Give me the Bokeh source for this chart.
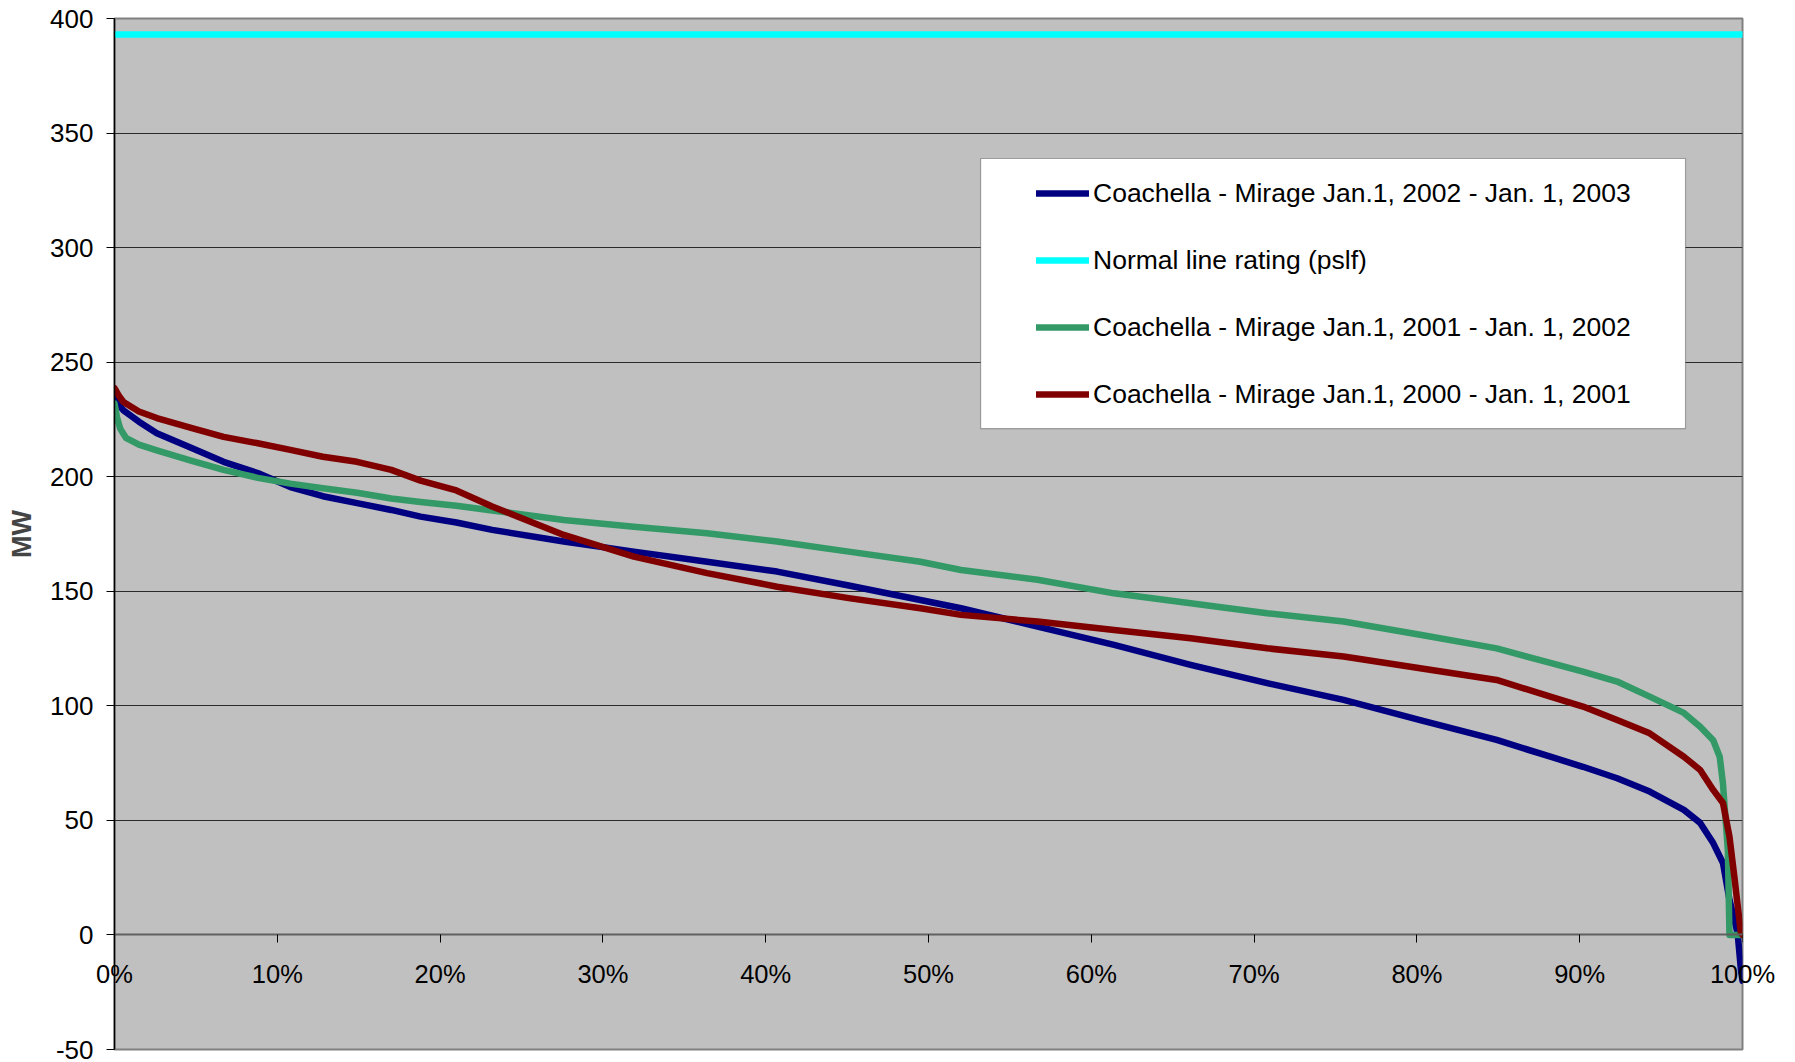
from bokeh.plotting import figure
from bokeh.models import (Range1d, FixedTicker, PrintfTickFormatter, Legend, LegendItem,
                          BoxAnnotation, LinearAxis)
from bokeh.embed import file_html
from bokeh.resources import INLINE

# ---- data (percent of time, MW) ----
pct_2002 = [0, 0.3, 0.55, 1.5, 2.6, 4.7, 6.7, 8.8, 10.8, 12.8, 14.9, 17, 18.8, 21, 23.2, 27.6,
            31.9, 36.4, 40.7, 45.1, 49.5, 52, 56.7, 61.4, 66.1, 70.8, 75.5, 80.2, 84.9, 88.2,
            90.2, 92.3, 94.3, 96.4, 97.4, 98.2, 98.8, 99.2, 99.7, 99.9, 100]
mw_2002 = [235, 231, 229, 224, 219, 212.6, 206.5, 201.6, 195.5, 191.5, 188.5, 185.5, 182.6, 180,
           176.8, 171.7, 167.3, 162.9, 158.6, 152.5, 146.2, 142.6, 134.6, 126.6, 117.9, 109.9,
           102.6, 93.8, 85.1, 77.8, 73.4, 68.4, 62.6, 54.6, 48.9, 40.1, 31.4, 15.3, 0.8, -15, -20]

pct_2001 = [0, 0.15, 0.35, 0.7, 1.5, 2.6, 4.7, 6.7, 8.8, 10.8, 12.8, 14.9, 17, 18.8, 21, 23.2,
            27.6, 31.9, 36.4, 40.7, 45.1, 49.5, 52, 56.7, 61.4, 66.1, 70.8, 75.5, 80.2, 84.9,
            88.2, 90.2, 92.3, 94.3, 96.4, 97.4, 98.2, 98.6, 98.8, 99.1, 99.2, 100]
mw_2001 = [232, 226, 221, 217, 214, 211.5, 207, 203, 199.5, 197, 195, 193, 190.5, 189, 187.3,
           185.3, 181.1, 178.2, 175.3, 171.7, 167.3, 162.9, 159.3, 155, 149.1, 144.8, 140.4,
           136.8, 131, 125.1, 118.7, 114.9, 110.6, 104, 96.9, 90.9, 85, 77.8, 66, 37, 0, 0]

pct_2000 = [0, 0.3, 0.55, 1.5, 2.6, 4.7, 6.7, 8.8, 10.8, 12.8, 14.9, 17, 18.8, 21, 23.2, 27.6,
            31.9, 36.4, 40.7, 45.1, 49.5, 52, 56.7, 61.4, 66.1, 70.8, 75.5, 80.2, 84.9, 88.2,
            90.2, 92.3, 94.3, 96.4, 97.4, 98.2, 98.8, 99.2, 99.5, 99.9, 100]
mw_2000 = [238.7, 235, 232.6, 228.5, 225.6, 221.3, 217.4, 214.6, 211.7, 208.7, 206.5, 203,
           198.3, 194, 187, 174.6, 165.1, 157.9, 152, 147, 142.6, 139.7, 136.8, 133.1, 129.5,
           125.1, 121.5, 116.4, 111.3, 104, 99.7, 93.8, 88, 77.8, 72, 63.3, 57.6, 42.9, 25.4,
           0.8, 0]

pct_rating = [0, 100]
mw_rating = [393, 393]

labels = ["Coachella - Mirage Jan.1, 2002 - Jan. 1, 2003",
          "Normal line rating (pslf)",
          "Coachella - Mirage Jan.1, 2001 - Jan. 1, 2002",
          "Coachella - Mirage Jan.1, 2000 - Jan. 1, 2001"]

x_ticks = list(range(0, 101, 10))
y_ticks = list(range(-50, 401, 50))

FONT = "Liberation Sans"

p = figure(width=1795, height=1062, output_backend="svg", toolbar_location=None,
           x_range=Range1d(0, 100), y_range=Range1d(-50, 400),
           x_axis_location=None, y_axis_location="left",
           min_border_left=114, min_border_right=53, min_border_top=18, min_border_bottom=13)
p.background_fill_color = "#C0C0C0"
p.border_fill_color = "white"
p.outline_line_color = "#808080"
p.outline_line_width = 2

p.xgrid.visible = False
p.ygrid.ticker = FixedTicker(ticks=y_ticks)
p.ygrid.grid_line_color = "#2a2a2a"
p.ygrid.grid_line_width = 1

yax = p.yaxis[0]
yax.ticker = FixedTicker(ticks=y_ticks)
yax.formatter = PrintfTickFormatter(format="%d")
yax.axis_label = "MW"
yax.axis_label_text_font = FONT
yax.axis_label_text_font_style = "bold"
yax.axis_label_text_font_size = "27px"
yax.axis_label_standoff = 10
yax.major_label_text_font = FONT
yax.major_label_text_font_size = "26px"
yax.major_label_text_color = "black"
yax.major_label_standoff = 13
yax.major_tick_out = 8
yax.major_tick_in = 0
yax.minor_tick_out = 0
yax.minor_tick_in = 0
yax.axis_line_color = "black"
yax.axis_line_width = 1.5
yax.major_tick_line_color = "black"

# tick labels of the percent axis (drawn in the bottom panel, raised to sit under the 0 MW line)
xlab = LinearAxis(ticker=FixedTicker(ticks=x_ticks), formatter=PrintfTickFormatter(format="%d%%"))
xlab.major_label_text_font = FONT
xlab.major_label_text_font_size = "25.5px"
xlab.major_label_text_color = "black"
xlab.major_label_standoff = -90
xlab.major_tick_out = 0
xlab.major_tick_in = 0
xlab.minor_tick_out = 0
xlab.minor_tick_in = 0
xlab.axis_line_color = None
xlab.major_tick_line_color = None
p.add_layout(xlab, "below")

# axis line and ticks at 0 MW
xax = LinearAxis(ticker=FixedTicker(ticks=x_ticks))
xax.fixed_location = 0
xax.major_label_text_alpha = 0
xax.major_label_text_font_size = "1px"
xax.major_tick_out = 8
xax.major_tick_in = 0
xax.minor_tick_out = 0
xax.minor_tick_in = 0
xax.axis_line_color = "#606060"
xax.axis_line_width = 2
xax.major_tick_line_color = "black"
p.add_layout(xax, "below")

LW = 6.5
r_2002 = p.line(pct_2002, mw_2002, line_color="#000080", line_width=LW, line_cap="round", line_join="round")
r_rating = p.line(pct_rating, mw_rating, line_color="#00FFFF", line_width=LW, line_cap="round")
r_2001 = p.line(pct_2001, mw_2001, line_color="#339966", line_width=LW, line_cap="round", line_join="round")
r_2000 = p.line(pct_2000, mw_2000, line_color="#800000", line_width=LW, line_cap="round", line_join="round")

box = BoxAnnotation(left=53.2, right=96.5, bottom=221, top=338.9,
                    fill_color="white", fill_alpha=1.0, line_color="black", line_width=1.2)
p.add_layout(box)

legend = Legend(items=[LegendItem(label=labels[0], renderers=[r_2002]),
                       LegendItem(label=labels[1], renderers=[r_rating]),
                       LegendItem(label=labels[2], renderers=[r_2001]),
                       LegendItem(label=labels[3], renderers=[r_2000])],
                location=(922, 638), margin=0, padding=0, spacing=33,
                label_height=34, glyph_height=34, glyph_width=53, label_standoff=4,
                label_text_font=FONT, label_text_font_size="26.5px", label_text_color="black",
                background_fill_alpha=0, border_line_alpha=0)
p.add_layout(legend, "center")

open("out.html", "w").write(file_html(p, INLINE))
